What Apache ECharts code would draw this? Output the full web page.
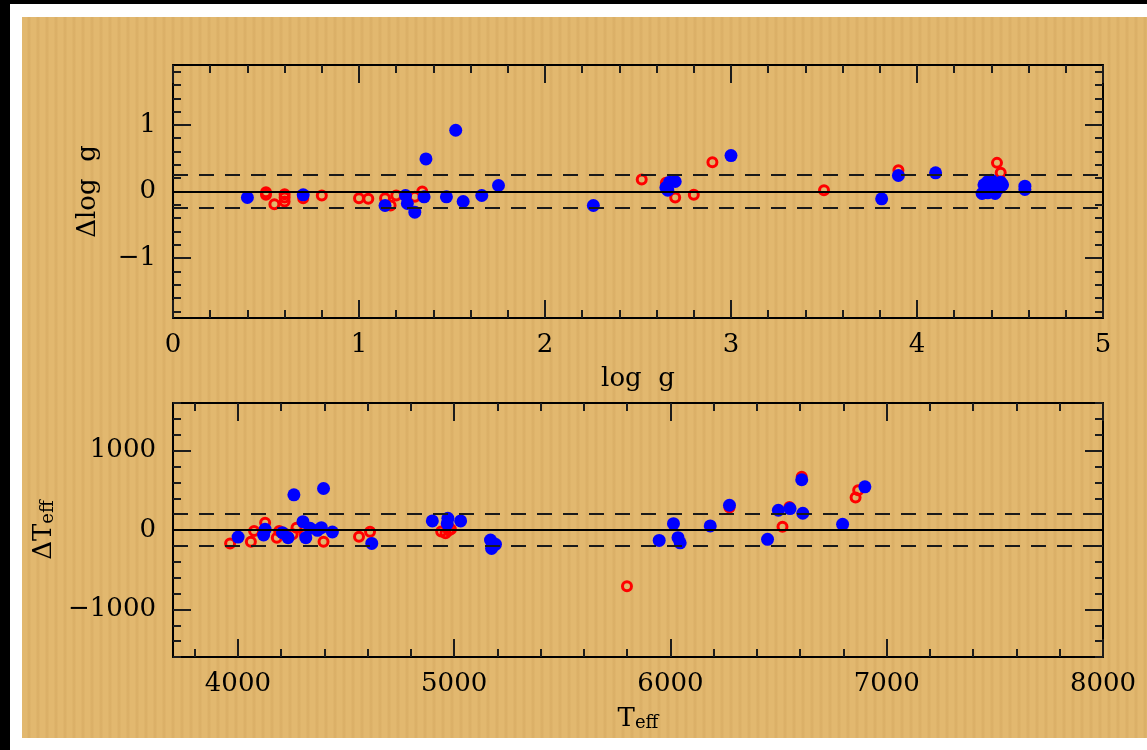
<!DOCTYPE html>
<html>
<head>
<meta charset="utf-8">
<script src="https://cdn.jsdelivr.net/npm/echarts@6/dist/echarts.min.js"></script>
<style>
  html, body { margin: 0; padding: 0; width: 1147px; height: 750px; overflow: hidden; background: #000; }
  #paper { position: absolute; left: 10px; top: 4px; right: 0; bottom: 0; background: #fff; }
  #tan {
    position: absolute; left: 22px; top: 17px; right: 0; bottom: 12px;
    background-color: #e2b86f;
    background-image: repeating-linear-gradient(90deg,
      rgba(185,135,65,0) 0px, rgba(185,135,65,0) 5px,
      rgba(185,135,65,0.16) 6px, rgba(185,135,65,0.16) 8px,
      rgba(185,135,65,0) 9px);
  }
  #chart { position: absolute; left: 0; top: 0; width: 1147px; height: 750px; }
</style>
</head>
<body>
<div id="paper"></div>
<div id="tan"></div>
<div id="chart"></div>
<script>
// ---- upper panel: log g residuals ----
const openLogg   = [0.5, 0.5, 0.545, 0.6, 0.6, 0.6, 0.7, 0.8, 1.0, 1.05, 1.14, 1.17, 1.2, 1.3, 1.34,
                    2.52, 2.65, 2.7, 2.8, 2.9, 3.5, 3.9, 4.43, 4.45];
const openDLogg  = [-0.01, -0.05, -0.19, -0.04, -0.09, -0.15, -0.1, -0.06, -0.1, -0.11, -0.1, -0.21, -0.06, -0.08, 0.0,
                    0.18, 0.13, -0.09, -0.05, 0.44, 0.02, 0.32, 0.43, 0.28];
const filledLogg  = [0.4, 0.7, 1.14, 1.25, 1.26, 1.3, 1.35, 1.36, 1.47, 1.52, 1.56, 1.66, 1.75, 2.26,
                     2.65, 2.66, 2.67, 2.7, 3.0, 3.81, 3.9, 4.1,
                     4.35, 4.36, 4.38, 4.38, 4.4, 4.4, 4.42, 4.42, 4.44, 4.45, 4.46, 4.58, 4.58];
const filledDLogg = [-0.09, -0.05, -0.21, -0.06, -0.18, -0.31, -0.08, 0.49, -0.08, 0.92, -0.15, -0.06, 0.09, -0.21,
                     0.06, 0.02, 0.14, 0.15, 0.54, -0.11, 0.24, 0.28,
                     -0.03, 0.1, 0.15, -0.02, 0.17, 0.02, 0.12, -0.03, 0.05, 0.14, 0.1, 0.08, 0.03];

// ---- lower panel: Teff residuals ----
const openTeff   = [3964, 4060, 4075, 4126, 4180, 4191, 4222, 4253, 4271, 4309, 4396, 4560, 4611,
                    4940, 4960, 4975, 4985, 5799, 6273, 6518, 6550, 6607, 6856, 6868];
const openDTeff  = [-169, -148, -13, 92, -97, -13, -55, -55, 29, -55, -148, -85, -22,
                    -20, -40, -5, 10, -709, 283, 42, 290, 670, 409, 502];
const filledTeff  = [4001, 4119, 4126, 4206, 4232, 4259, 4301, 4314, 4334, 4368, 4386, 4396, 4437, 4619,
                     4899, 4968, 4971, 5030, 5168, 5173, 5191,
                     5948, 6014, 6035, 6045, 6184, 6273, 6449, 6499, 6553, 6607, 6612, 6796, 6899];
const filledDTeff = [-89, -63, 9, -34, -97, 443, 105, -97, 22, -4, 29, 523, -25, -169,
                     114, 80, 148, 114, -127, -232, -181,
                     -131, 80, -97, -161, 51, 312, -118, 249, 270, 633, 211, 72, 544];

// ---- axis extents and ticks ----
const loggRange  = [0, 5];
const dLoggRange = [-1.9, 1.9];
const teffRange  = [3700, 8000];
const dTeffRange = [-1600, 1600];
const loggMajor  = [0, 1, 2, 3, 4, 5];
const dLoggMajor = [-1, 0, 1];
const teffMajor  = [4000, 5000, 6000, 7000, 8000];
const dTeffMajor = [-1000, 0, 1000];
const loggStep = 0.2, dLoggStep = 0.2, teffStep = 200, dTeffStep = 200;
const dLoggBand = 0.25, dTeffBand = 200;

const FONT = 'DejaVu Serif';
const INK = '#000';

function minorTicks(range, step) {
  const out = [];
  const start = Math.ceil(range[0] / step - 1e-9) * step;
  for (let v = start; v <= range[1] + 1e-9; v += step) out.push(Math.round(v * 1000) / 1000);
  return out;
}
const fmt = v => (v < 0 ? '\u2212' + Math.abs(v) : String(v));

// a framed side: long ticks on one axis, short ticks on an overlapping twin
function side(gridIndex, position, range, major, step, labelled, extra) {
  const base = {
    type: 'value', gridIndex, position, min: range[0], max: range[1],
    splitLine: { show: false }, minorTick: { show: false }
  };
  const main = Object.assign({}, base, {
    axisLine: { show: true, onZero: false, lineStyle: { color: INK, width: 2 } },
    axisTick: { show: true, inside: true, length: 18, customValues: major, lineStyle: { color: '#1c1c1c', width: 2 } },
    axisLabel: {
      show: labelled, customValues: major, formatter: fmt,
      fontFamily: FONT, fontSize: 26, color: INK,
      margin: (position === 'left' || position === 'right') ? 17 : 14
    }
  }, extra || {});
  const minor = Object.assign({}, base, {
    axisLine: { show: false, onZero: false },
    axisTick: { show: true, inside: true, length: 8, customValues: minorTicks(range, step), lineStyle: { color: '#1c1c1c', width: 2 } },
    axisLabel: { show: false }
  });
  return [main, minor];
}

const nameStyle = {
  fontFamily: FONT, fontSize: 26, color: INK,
  rich: {
    t: { fontFamily: FONT, fontSize: 26, color: INK, lineHeight: 26, verticalAlign: 'top' },
    s: { fontFamily: FONT, fontSize: 18, color: INK, lineHeight: 18, verticalAlign: 'bottom', padding: [16, 0, 0, 0] }
  }
};

const xAxes = [].concat(
  side(0, 'bottom', loggRange, loggMajor, loggStep, true,
    { name: 'log  g', nameLocation: 'middle', nameGap: 48, nameTextStyle: nameStyle }),
  side(0, 'top', loggRange, loggMajor, loggStep, false),
  side(1, 'bottom', teffRange, teffMajor, teffStep, true,
    { name: '{t|T}{s|eff}', nameLocation: 'middle', nameGap: 46, nameTextStyle: nameStyle }),
  side(1, 'top', teffRange, teffMajor, teffStep, false)
);
const yAxes = [].concat(
  side(0, 'left', dLoggRange, dLoggMajor, dLoggStep, true,
    { name: '\u0394log  g', nameLocation: 'middle', nameRotate: 90, nameGap: 72, nameTextStyle: nameStyle }),
  side(0, 'right', dLoggRange, dLoggMajor, dLoggStep, false),
  side(1, 'left', dTeffRange, dTeffMajor, dTeffStep, true,
    { name: '{t|\u0394T}{s|eff}', nameLocation: 'middle', nameRotate: 90, nameGap: 72, nameTextStyle: nameStyle }),
  side(1, 'right', dTeffRange, dTeffMajor, dTeffStep, false)
);

const pairs = (xs, ys) => xs.map((x, i) => [x, ys[i]]);

const openStyle = { color: 'rgba(0,0,0,0)', borderColor: '#ff0000', borderWidth: 3, opacity: 1 };
const filledStyle = { color: '#0000ff', opacity: 1 };
const dash = { color: '#1a1a1a', width: 2, type: [15, 11] };
const solid = { color: INK, width: 2, type: 'solid' };

function refLines(xi, yi, band) {
  return {
    type: 'line', xAxisIndex: xi, yAxisIndex: yi, data: [], z: 1, silent: true,
    markLine: {
      silent: true, symbol: ['none', 'none'], label: { show: false }, animation: false,
      data: [
        { yAxis: 0, lineStyle: solid },
        { yAxis: band, lineStyle: dash },
        { yAxis: -band, lineStyle: dash }
      ]
    }
  };
}

const option = {
  animation: false,
  backgroundColor: 'transparent',
  grid: [
    { left: 173, top: 65, width: 930, height: 253, outerBoundsMode: 'none', containLabel: false },
    { left: 173, top: 403, width: 930, height: 254, outerBoundsMode: 'none', containLabel: false }
  ],
  xAxis: xAxes,
  yAxis: yAxes,
  series: [
    refLines(0, 0, dLoggBand),
    { type: 'scatter', xAxisIndex: 0, yAxisIndex: 0, z: 2, symbol: 'circle', symbolSize: 9,
      itemStyle: openStyle, data: pairs(openLogg, openDLogg) },
    { type: 'scatter', xAxisIndex: 0, yAxisIndex: 0, z: 3, symbol: 'circle', symbolSize: 13,
      itemStyle: filledStyle, data: pairs(filledLogg, filledDLogg) },
    refLines(4, 4, dTeffBand),
    { type: 'scatter', xAxisIndex: 4, yAxisIndex: 4, z: 2, symbol: 'circle', symbolSize: 9,
      itemStyle: openStyle, data: pairs(openTeff, openDTeff) },
    { type: 'scatter', xAxisIndex: 4, yAxisIndex: 4, z: 3, symbol: 'circle', symbolSize: 13,
      itemStyle: filledStyle, data: pairs(filledTeff, filledDTeff) }
  ]
};

const chart = echarts.init(document.getElementById('chart'), null, { renderer: 'canvas' });
chart.setOption(option);
</script>
</body>
</html>
